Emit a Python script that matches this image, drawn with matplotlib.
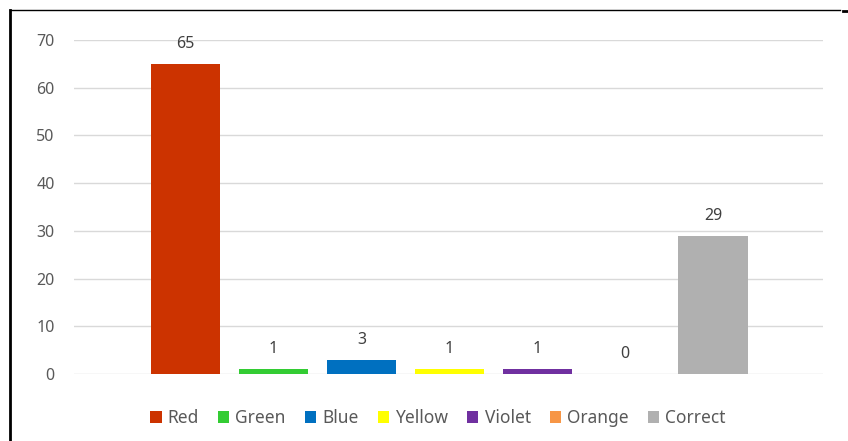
import matplotlib
matplotlib.use("Agg")
from matplotlib import pyplot as plt
from matplotlib.lines import Line2D

categories = ["Red", "Green", "Blue", "Yellow", "Violet", "Orange", "Correct"]
values = [65, 1, 3, 1, 1, 0, 29]
colors = ["#CC3300", "#33CC33", "#0070C0", "#FFFF00", "#7030A0", "#F79646", "#B0B0B0"]
yticks = [0, 10, 20, 30, 40, 50, 60, 70]

plt.rcParams['font.family'] = ['Noto Sans', 'DejaVu Sans']

fig = plt.figure(figsize=(8.48, 4.41), dpi=100)
ax = fig.add_axes([74 / 848, 67 / 441, 749 / 848, 334 / 441])

handles = []
for i, (name, val, col) in enumerate(zip(categories, values, colors)):
    b = ax.bar(i, val, width=0.79, color=col, label=name, zorder=3)
    handles.append(b)
    ax.annotate(str(val), (i, val), xytext=(0, 14.3), textcoords='offset points',
                ha='center', va='center', fontsize=11.5, color='#404040')

ax.set_xlim(-1.27, 6 + 1.25)
ax.set_ylim(0, 70)
ax.set_yticks(yticks)
ax.set_xticks([])
ax.yaxis.grid(True, color='#d9d9d9', linewidth=1, zorder=0)
ax.tick_params(axis='y', length=0, pad=14, labelsize=11.5, labelcolor='#595959')
for s in ax.spines.values():
    s.set_visible(False)

fig.legend(handles=handles, labels=categories, loc='center',
           bbox_to_anchor=(438 / 848, 1 - 418 / 441), ncol=7, frameon=False,
           handlelength=0.65, handleheight=0.65, handletextpad=0.35,
           columnspacing=1.1, fontsize=12.5, labelcolor='#595959')

# frame lines round the picture
fig.add_artist(Line2D([10 / 848, 10 / 848], [0, 1 - 10 / 441], color='black',
                      linewidth=2, transform=fig.transFigure))
fig.add_artist(Line2D([10 / 848, 840 / 848], [1 - 10 / 441, 1 - 10 / 441], color='black',
                      linewidth=1, transform=fig.transFigure))
fig.add_artist(Line2D([843 / 848, 1], [1 - 11 / 441, 1 - 11 / 441], color='black',
                      linewidth=2, transform=fig.transFigure))

plt.savefig('out.png', dpi=100)
plt.close()
